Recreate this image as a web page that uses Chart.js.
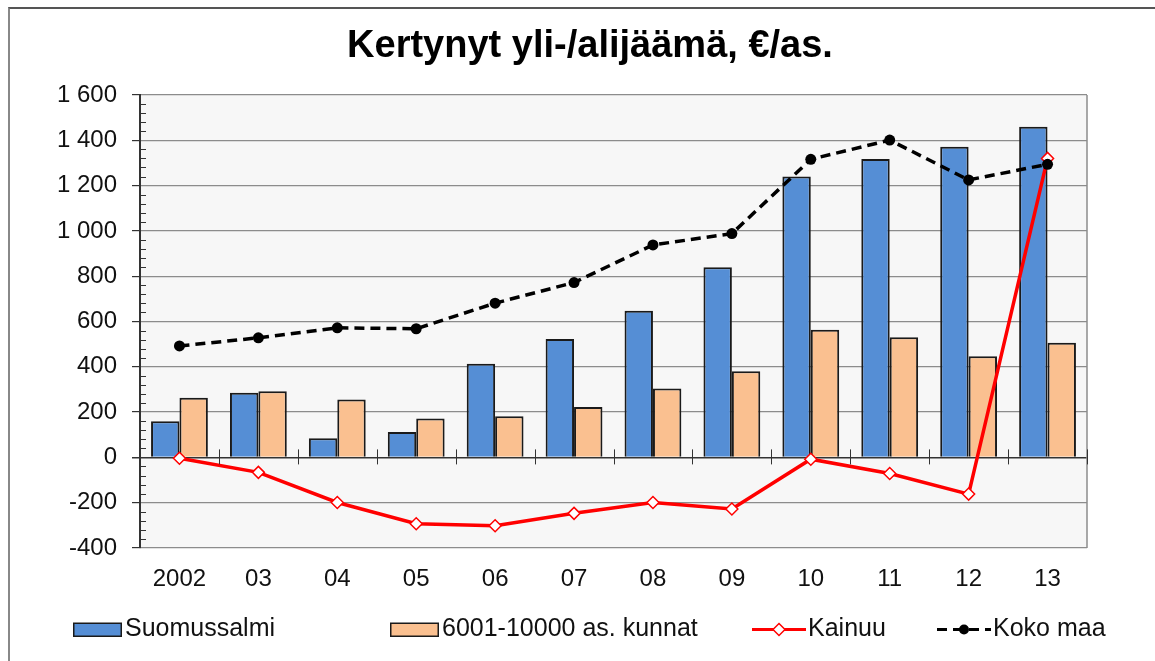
<!DOCTYPE html>
<html>

<head>
    <meta charset="utf-8">
    <title>Kertynyt yli-/alijäämä</title>
    <script src="https://cdn.jsdelivr.net/npm/chart.js@4.4.0/dist/chart.umd.min.js"></script>
    <style>
        html, body { margin: 0; padding: 0; background: #fff; }
        #wrap { position: relative; width: 1155px; height: 661px; overflow: hidden; }
        #frame { position: absolute; left: 8px; top: 7px; width: 1200px; height: 700px;
                 border-top: 2px solid #555; border-left: 2px solid #888; pointer-events: none; }
        #title { position: absolute; left: 93px; width: 994px; top: 22px; text-align: center;
                 font: bold 38px "Liberation Sans", Arial, sans-serif; line-height: 44px; color: #000; }
        .lg { position: absolute; top: 615px; font: 25px "Liberation Sans", Arial, sans-serif;
              line-height: 25px; color: #111; white-space: nowrap; }
        .lg svg { position: absolute; top: 0; }
    </style>
</head>

<body>
    <div id="wrap">
        <canvas id="myChart" width="1155" height="661"></canvas>
        <div id="frame"></div>
        <div id="title">Kertynyt yli-/alijäämä, €/as.</div>
        <div id="legend"></div>
    </div>
    <script>
        // data
        const categories = ['2002', '03', '04', '05', '06', '07', '08', '09', '10', '11', '12', '13'];
        const suomussalmi = [160, 285, 84, 112, 414, 523, 648, 840, 1240, 1317, 1372, 1460];
        const kunnat = [263, 292, 256, 172, 182, 223, 304, 380, 564, 530, 447, 506];
        const kainuu = [-4, -66, -199, -293, -302, -247, -199, -228, -8, -71, -162, 1320];
        const kokoMaa = [492, 528, 572, 568, 681, 772, 938, 988, 1316, 1401, 1225, 1294];
        const yTicks = [-400, -200, 0, 200, 400, 600, 800, 1000, 1200, 1400, 1600];

        const FONT = '"Liberation Sans", Arial, sans-serif';

        function fmt(v) {
            return String(v).replace(/\B(?=(\d{3})+(?!\d))/g, ' ');
        }

        // plot background, right border, minor ticks, category ticks on zero line
        const plotDecor = {
            id: 'plotDecor',
            beforeDraw(chart) {
                const a = chart.chartArea, c = chart.ctx;
                c.save();
                c.fillStyle = '#f7f7f7';
                c.fillRect(a.left, a.top, a.right - a.left, a.bottom - a.top);
                c.restore();
            },
            afterDraw(chart) {
                const a = chart.chartArea, c = chart.ctx;
                const y = chart.scales.y, x = chart.scales.x;
                c.save();
                c.strokeStyle = '#8c8c8c';
                c.lineWidth = 1.5;
                c.beginPath();
                c.moveTo(a.right, a.top);
                c.lineTo(a.right, a.bottom);
                c.stroke();
                // minor ticks
                c.strokeStyle = '#333';
                c.lineWidth = 1;
                c.beginPath();
                for (let v = yTicks[0]; v <= yTicks[yTicks.length - 1]; v += 40) {
                    if (v % 200 === 0) continue;
                    const py = Math.round(y.getPixelForValue(v)) + 0.5;
                    c.moveTo(a.left, py);
                    c.lineTo(a.left + 6, py);
                }
                c.stroke();
                // category ticks at 0
                const y0 = y.getPixelForValue(0);
                c.beginPath();
                for (let i = 0; i <= categories.length; i++) {
                    let px;
                    if (i === 0) px = a.left;
                    else if (i === categories.length) px = a.right;
                    else px = (x.getPixelForValue(i - 1) + x.getPixelForValue(i)) / 2;
                    px = Math.round(px) + 0.5;
                    c.moveTo(px, y0 - 8);
                    c.lineTo(px, y0 + 7);
                }
                c.stroke();
                c.restore();
            }
        };

        const data = {
            labels: categories,
            datasets: [
                {
                    type: 'bar',
                    label: 'Suomussalmi',
                    data: suomussalmi,
                    backgroundColor: '#558ed5',
                    borderColor: '#1a1a1a',
                    borderWidth: 2,
                    order: 3
                },
                {
                    type: 'bar',
                    label: '6001-10000 as. kunnat',
                    data: kunnat,
                    backgroundColor: '#fac090',
                    borderColor: '#1a1a1a',
                    borderWidth: 2,
                    order: 4
                },
                {
                    type: 'line',
                    label: 'Kainuu',
                    data: kainuu,
                    borderColor: '#ff0000',
                    borderWidth: 3.5,
                    pointStyle: 'rectRot',
                    pointRadius: 6,
                    pointBorderWidth: 1.5,
                    pointBackgroundColor: '#ffffff',
                    pointBorderColor: '#ff0000',
                    tension: 0,
                    order: 2
                },
                {
                    type: 'line',
                    label: 'Koko maa',
                    data: kokoMaa,
                    borderColor: '#000000',
                    borderWidth: 3.5,
                    borderDash: [10, 6],
                    pointStyle: 'circle',
                    pointRadius: 5.5,
                    pointBorderWidth: 0,
                    pointBackgroundColor: '#000000',
                    pointBorderColor: '#000000',
                    tension: 0,
                    order: 1
                }
            ]
        };

        const config = {
            type: 'bar',
            data: data,
            plugins: [plotDecor],
            options: {
                responsive: false,
                animation: false,
                layout: { padding: { left: 8, right: 68, top: 95, bottom: 0 } },
                datasets: {
                    bar: { categoryPercentage: 0.72, barPercentage: 1 }
                },
                plugins: {
                    legend: { display: false },
                    tooltip: { enabled: false },
                    title: { display: false }
                },
                scales: {
                    x: {
                        grid: { display: false, drawTicks: false },
                        border: { display: false },
                        ticks: {
                            color: '#111',
                            font: { family: FONT, size: 24 },
                            padding: 17,
                            maxRotation: 0,
                            autoSkip: false
                        },
                        afterFit(s) { s.height = 113; }
                    },
                    y: {
                        min: yTicks[0],
                        max: yTicks[yTicks.length - 1],
                        afterBuildTicks(s) { s.ticks = yTicks.map(v => ({ value: v })); },
                        grid: {
                            color: ctx => (ctx.tick && ctx.tick.value === 0) ? '#333' : '#8c8c8c',
                            lineWidth: ctx => (ctx.tick && ctx.tick.value === 0) ? 1.5 : 1.2,
                            tickColor: '#333',
                            tickLength: 8
                        },
                        border: { color: '#333', width: 2 },
                        ticks: {
                            color: '#111',
                            font: { family: FONT, size: 24 },
                            padding: 15,
                            callback: v => fmt(v)
                        },
                        afterFit(s) { s.width = 132; }
                    }
                }
            }
        };

        const myChart = new Chart(document.getElementById('myChart'), config);

        // legend, built from the datasets
        const legendPos = [
            { sym: 73, text: 125 },
            { sym: 390, text: 442 },
            { sym: 752, text: 808 },
            { sym: 937, text: 993 }
        ];
        const legend = document.getElementById('legend');
        myChart.data.datasets.forEach((ds, i) => {
            const p = legendPos[i];
            const item = document.createElement('div');
            item.className = 'lg';
            item.style.left = p.sym + 'px';
            let svg;
            if (ds.type === 'bar') {
                svg = '<svg width="50" height="25" style="left:0"><rect x="0.75" y="8.25" width="47.5" height="13" fill="' +
                    ds.backgroundColor + '" stroke="#1a1a1a" stroke-width="1.5"/></svg>';
            } else if (ds.pointStyle === 'rectRot') {
                svg = '<svg width="56" height="25" style="left:0"><line x1="0" y1="14.5" x2="54" y2="14.5" stroke="' +
                    ds.borderColor + '" stroke-width="3"/><path d="M27 8.5 L33 14.5 L27 20.5 L21 14.5 Z" fill="#fff" stroke="' +
                    ds.borderColor + '" stroke-width="1.5"/></svg>';
            } else {
                svg = '<svg width="56" height="25" style="left:0"><line x1="0" y1="14.5" x2="54" y2="14.5" stroke="' +
                    ds.borderColor + '" stroke-width="3" stroke-dasharray="10 6"/><circle cx="27" cy="14.5" r="5" fill="' +
                    ds.borderColor + '"/></svg>';
            }
            item.innerHTML = svg + '<span style="position:absolute;left:' + (p.text - p.sym) + 'px;top:0">' + ds.label + '</span>';
            legend.appendChild(item);
        });
    </script>
</body>

</html>
